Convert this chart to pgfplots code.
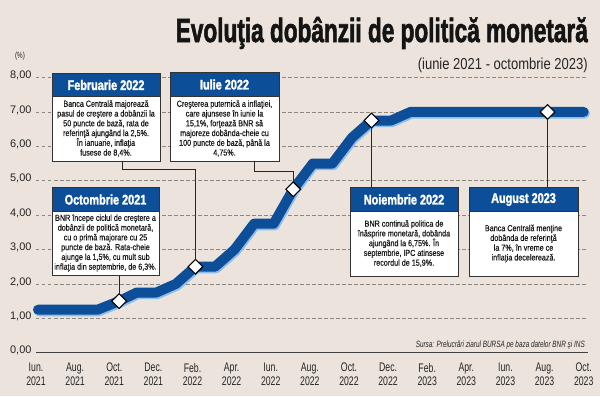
\documentclass[border=0pt]{standalone}
\usepackage{pgfplots}
\usepackage{pgfplotstable}
\usepackage{graphicx}
\pgfplotsset{compat=1.18}
\usepackage{fontspec}
\setmainfont{Liberation Sans}
\newfontfamily\cfont{Liberation Sans}[FakeStretch=0.70]
\newfontfamily\bodyfont{Liberation Sans}[FakeStretch=0.82,FakeBold=0.4]
\newfontfamily\hfont{Liberation Sans}[FakeStretch=0.78,FakeBold=1.8]
\newfontfamily\tfont{Liberation Sans}[FakeBold=2.2]
\definecolor{bg}{HTML}{EBE3DC}
\definecolor{bnrblue}{HTML}{0C4F98}
\definecolor{shadowblue}{HTML}{8DBDEA}
\definecolor{gridgray}{HTML}{8E8882}

\pgfplotstableread{
m r
0.1 1.25
3.15 1.25
4.25 1.50
5.15 1.75
6.15 1.75
7.15 2.00
8.15 2.50
9.15 2.50
10.15 3.00
11.15 3.75
12.15 3.75
13.15 4.75
14.15 5.50
15.15 5.50
16.15 6.25
17.15 6.75
18.15 6.75
19.15 7.00
28.0 7.00
}\ratedata

\pgfplotstableread{
m r
4.25 1.50
8.15 2.50
13.15 4.75
17.15 6.75
26.15 7.00
}\eventdata

\newcommand\infobox[7]{%
  \fill[white] (#1,#5) rectangle (#3,#4);
  \fill[bnrblue] (#1,#2) rectangle (#3,#5);
  \draw[black!80, line width=0.8bp] (#1,#2) rectangle (#3,#4);
  \draw[black!80, line width=0.6bp] (#1,#5) -- (#3,#5);
  \node[text=white, inner sep=0, font=\hfont\bfseries\fontsize{14}{15}\selectfont] at ({(#1+#3)/2},{(#2+#5)/2+0.5}) {#6};
  \node[align=center, inner sep=0, text=black!90, font=\bodyfont\fontsize{8.8}{9.8}\selectfont] at ({(#1+#3)/2},{(#5+#4)/2}) {#7};
}

\begin{document}
\begin{tikzpicture}
\begin{scope}[x=1bp,y=-1bp,shift={(-36bp,352.7bp)}]
\fill[bg] (0,0) rectangle (600,396);
\useasboundingbox (0,0) rectangle (600,396);
\end{scope}

\begin{axis}[
  at={(0,0)}, anchor=south west,
  scale only axis, width=551.6bp, height=275.2bp,
  xmin=0, xmax=28.2, ymin=0, ymax=8,
  enlargelimits=false, clip=false,
  axis line style={draw=none},
  tick style={draw=none}, major tick length=0pt,
  ymajorgrids,
  grid style={gridgray, line width=0.7bp, dash pattern=on 3.5bp off 2.5bp},
  xtick={0,2,...,28},
  xticklabels={{Iun.\\2021},{Aug.\\2021},{Oct.\\2021},{Dec.\\2021},{Feb.\\2022},{Apr.\\2022},{Iun.\\2022},{Aug.\\2022},{Oct.\\2022},{Dec.\\2022},{Feb.\\2023},{Apr.\\2023},{Iun.\\2023},{Aug.\\2023},{Oct.\\2023}},
  xticklabel style={align=center, text=black!85, font=\cfont\fontsize{12.5}{13.5}\selectfont, yshift=-7bp},
  ytick={0,1,...,8},
  yticklabels={{0,00},{1,00},{2,00},{3,00},{4,00},{5,00},{6,00},{7,00},{8,00}},
  yticklabel style={text=black!85, font=\fontsize{11}{12}\selectfont, xshift=-1bp, yshift=2bp},
]
\addplot[shadowblue, line width=10bp, line cap=round, line join=round, xshift=1.2bp, yshift=-1.6bp] table[x=m, y=r] {\ratedata};
\addplot[bnrblue, line width=10bp, line cap=round, line join=round] table[x=m, y=r] {\ratedata};
\addplot[only marks, mark=square*, mark size=5.2bp, mark options={rotate=45, fill=white, draw=black, line width=1.1bp}] table[x=m, y=r] {\eventdata};
\draw[black!75, line width=0.9bp] (axis cs:0,0) -- (axis cs:28.2,0);
\coordinate (a1) at ([yshift=7bp]axis cs:4.25,1.5);
\coordinate (a2) at ([yshift=7bp]axis cs:8.15,2.5);
\coordinate (a3) at ([yshift=7bp]axis cs:13.15,4.75);
\coordinate (a4) at ([yshift=-7bp]axis cs:17.15,6.75);
\coordinate (a5) at ([yshift=-7bp]axis cs:26.15,7);
\end{axis}

\begin{scope}[x=1bp,y=-1bp,shift={(-36bp,352.7bp)}]
\coordinate (y275) at (0,275);
\coordinate (y169) at (0,169);
\coordinate (y171) at (0,171);
\coordinate (y187) at (0,187);
\begin{scope}[black!85, line width=0.8bp]
\draw (a1) -- (a1 |- y275);
\draw (a2) -- (a2 |- y169) -- (122,169) -- (122,160);
\draw (a3) -- (a3 |- y171) -- (254,171) -- (254,160);
\draw (a4) -- (a4 |- y187);
\draw (a5) -- (a5 |- y187);
\end{scope}

\infobox{52}{73}{160}{161}{96}{Februarie 2022}{Banca Centrală majorează\\pasul de creştere a dobânzii la\\50 puncte de bază, rata de\\referinţă ajungând la 2,5\%.\\În ianuarie, inflaţia\\fusese de 8,4\%.}
\infobox{170}{72}{279}{161}{96}{Iulie 2022}{Creşterea puternică a inflaţiei,\\care ajunsese în iunie la\\15,1\%, forţează BNR să\\majoreze dobânda-cheie cu\\100 puncte de bază, până la\\4,75\%.}
\infobox{52}{187}{159}{275}{211}{Octombrie 2021}{BNR începe ciclul de creştere a\\dobânzii de politică monetară,\\cu o primă majorare cu 25\\puncte de bază. Rata-cheie\\ajunge la 1,5\%, cu mult sub\\inflaţia din septembrie, de 6,3\%.}
\infobox{350}{187}{458}{276}{211}{Noiembrie 2022}{BNR continuă politica de\\înăsprire monetară, dobânda\\ajungând la 6,75\%. În\\septembrie, IPC atinsese\\recordul de 15,9\%.}
\infobox{469}{187}{578}{276}{211}{August 2023}{Banca Centrală menţine\\dobânda de referinţă\\la 7\%, în vreme ce\\inflaţia decelerează.}

\node[anchor=base east, inner sep=0, text=black!92] at (588,42) {\resizebox{412bp}{25bp}{\tfont\bfseries Evoluţia dobânzii de politică monetară}};
\node[anchor=base east, inner sep=0, text=black!85] at (588,69.5) {\resizebox{170bp}{11.5bp}{\cfont (iunie 2021 - octombrie 2023)}};
\node[anchor=base, inner sep=0, text=black!85, font=\cfont\fontsize{9}{10}\selectfont] at (20,58) {(\%)};
\node[anchor=base east, inner sep=0, text=black!85] at (585,347.5) {\resizebox{169bp}{!}{\cfont\itshape\fontsize{8}{9}\selectfont Sursa: Prelucrări ziarul BURSA pe baza datelor BNR şi INS}};
\end{scope}
\end{tikzpicture}
\end{document}
